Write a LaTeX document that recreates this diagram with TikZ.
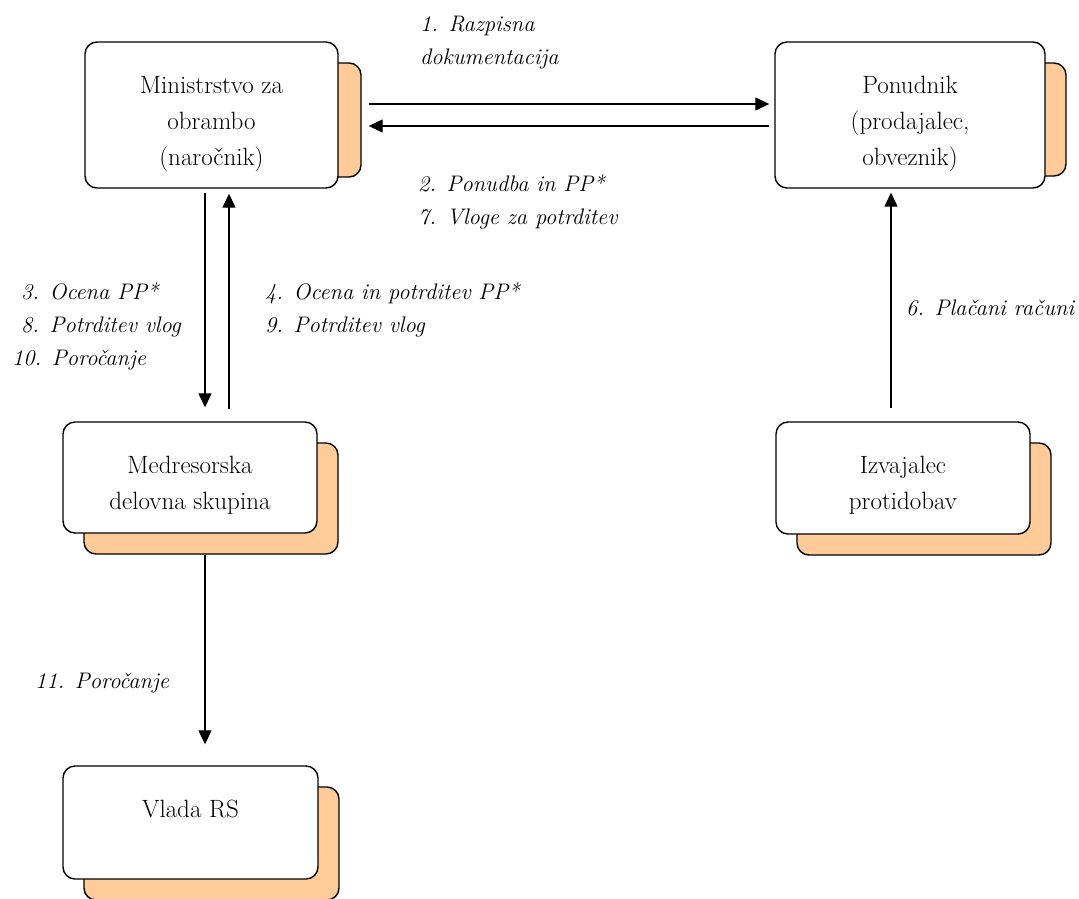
\documentclass[tikz,border=0pt]{standalone}
\usepackage{tikz}
\usetikzlibrary{arrows.meta,positioning,calc,backgrounds}

\definecolor{shadeorange}{HTML}{FFCC99}

% text of a box, set from the top of the box
\newcommand{\unittext}[3]{\parbox[c][#2][t]{#1}{\centering\rule{0pt}{51pt}#3}}

\tikzset{
  unit/.style={draw, line width=1.4pt, rounded corners=12pt, fill=white, inner sep=0pt,
    font=\fontsize{25}{36}\selectfont},
  unitshadow/.style={draw, line width=1.4pt, rounded corners=12pt, fill=shadeorange, inner sep=0pt},
  flow/.style={-{Triangle[length=14pt,width=13pt]}, line width=1.3pt},
  steplabel/.style={font=\fontsize{22.5}{33}\selectfont\itshape, align=left, inner sep=0pt, anchor=west},
}

\begin{document}
\begin{tikzpicture}[x=1pt, y=-1pt]
  \useasboundingbox (0,0) rectangle (1079,898);

  % ministry box
  \node[unit] (min) at (211.5,115) {\unittext{253pt}{146pt}{Ministrstvo za\\obrambo\\(naročnik)}};

  % bidder box
  \node[unit] (pon) at (910,115) {\unittext{270pt}{146pt}{Ponudnik\\(prodajalec,\\obveznik)}};

  % working group box
  \node[unit] (med) at (190,477.5) {\unittext{254pt}{111pt}{Medresorska\\delovna skupina}};

  % offset contractor box
  \node[unit] (izv) at (903,478) {\unittext{254pt}{112pt}{Izvajalec\\protidobav}};

  % government box
  \node[unit] (vla) at (190.5,822.5) {\unittext{255pt}{113pt}{Vlada RS}};

  % shadows behind the boxes
  \begin{scope}[on background layer]
    \node[unitshadow, minimum width=253pt, minimum height=114pt] (minsh) at ([shift={(23,5)}]min.center) {};
    \node[unitshadow, minimum width=270pt, minimum height=113pt] (ponsh) at ([shift={(21,4.5)}]pon.center) {};
    \node[unitshadow, minimum width=254pt, minimum height=111pt] (medsh) at ([shift={(21,21)}]med.center) {};
    \node[unitshadow, minimum width=254pt, minimum height=112pt] (izvsh) at ([shift={(21,21)}]izv.center) {};
    \node[unitshadow, minimum width=255pt, minimum height=113pt] (vlash) at ([shift={(21,21)}]vla.center) {};
  \end{scope}

  % arrows between ministry and bidder
  \coordinate (tender) at ([shift={(30,-11)}]min.east);
  \coordinate (offer) at ([shift={(30,11)}]min.east);
  \draw[flow, shorten >=5pt] (tender) -- (tender -| pon.west);
  \draw[flow, shorten <=5pt] (offer -| pon.west) -- (offer);

  % arrows between ministry and working group
  \coordinate (assess) at ([shift={(-6.5,4)}]min.south);
  \coordinate (approve) at ([shift={(39,-12)}]med.north);
  \draw[flow, shorten >=14pt] (assess) -- (assess |- med.north);
  \draw[flow, shorten >=5pt] (approve) -- (approve |- min.south);

  % working group reports to government
  \draw[flow, shorten >=21pt] (assess |- medsh.south) -- (assess |- vla.north);

  % paid invoices
  \coordinate (paid) at ([shift={(-12,-13)}]izv.north);
  \draw[flow, shorten >=4pt] (paid) -- (paid |- pon.south);

  % step labels
  \node[steplabel] (l1) at (420,43) {1. Razpisna\\dokumentacija};
  \node[steplabel] (l2) at (418,202) {2. Ponudba in PP*\\7. Vloge za potrditev};
  \node[steplabel] (l3) at (12,326) {\hspace*{9pt}3. Ocena PP*\\\hspace*{9pt}8. Potrditev vlog\\10. Poročanje};
  \node[steplabel] (l4) at (265,309.5) {4. Ocena in potrditev PP*\\9. Potrditev vlog};
  \node[steplabel] (l6) at (906,308) {6. Plačani računi};
  \node[steplabel] (l11) at (35,683) {11. Poročanje};
\end{tikzpicture}
\end{document}
